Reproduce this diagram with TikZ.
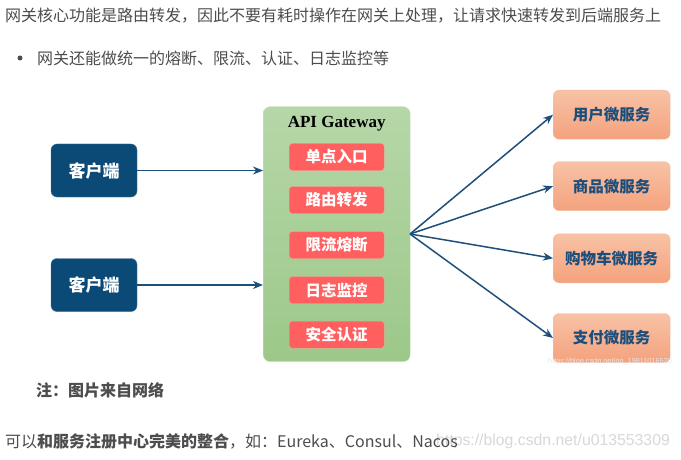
\documentclass[tikz,border=0pt]{standalone}
\usepackage{fontspec}
\setmainfont{Noto Sans CJK SC}
\newfontfamily\gwfont{Liberation Serif}
\newfontfamily\wmfont{Liberation Sans}
\usetikzlibrary{arrows.meta}
\definecolor{txt}{HTML}{4D4D4D}
\definecolor{client}{HTML}{0B4A76}
\definecolor{arr}{HTML}{1E4F7A}
\definecolor{gwtop}{HTML}{B6D7A8}
\definecolor{gwbot}{HTML}{9CC889}
\definecolor{gwline}{HTML}{CFE5C4}
\definecolor{redf}{HTML}{FF5F5F}
\definecolor{redl}{HTML}{FF9C9C}
\definecolor{ortop}{HTML}{F8C2A6}
\definecolor{orbot}{HTML}{F4A27D}
\definecolor{orline}{HTML}{F6BCA2}
\definecolor{ortext}{HTML}{1D4E7B}
\definecolor{wm}{HTML}{D8D8D8}
\begin{document}
\begin{tikzpicture}[x=1pt,y=-1pt,
  para/.style={anchor=west,inner sep=0pt,text=txt,font=\fontsize{16}{16}\selectfont},
  clientbox/.style={draw=client!80!white,fill=client,rounded corners=6pt,minimum width=86pt,minimum height=53pt,text=white,font=\fontsize{17}{17}\selectfont\bfseries},
  gwbox/.style={draw=gwline,top color=gwtop,bottom color=gwbot,rounded corners=7pt,minimum width=147pt,minimum height=255pt},
  redbox/.style={draw=redl,fill=redf,rounded corners=3pt,minimum width=95pt,minimum height=27pt,text=white,font=\fontsize{15.5}{15.5}\selectfont\bfseries},
  svcbox/.style={draw=orline,top color=ortop,bottom color=orbot,rounded corners=6pt,minimum width=117pt,minimum height=49pt,text=ortext,font=\fontsize{15.5}{15.5}\selectfont\bfseries},
  link/.style={draw=arr,line width=1.5pt,-{Stealth[length=10pt,width=8pt]}}
]
\useasboundingbox[fill=white] (0,0) rectangle (681,460);
% texts
\node[para] (t1) at (5,16) {网关核心功能是路由转发，因此不要有耗时操作在网关上处理，让请求快速转发到后端服务上};
\fill[txt] (20,58) circle (2.5pt);
\node[para] (t2) at (37,58) {网关还能做统一的熔断、限流、认证、日志监控等};
\node[para,font=\fontsize{16}{16}\selectfont\bfseries] (note) at (36,390) {注：图片来自网络};
\node[anchor=west,inner sep=0pt,text=wm,font=\wmfont\fontsize{15.8}{15.8}\selectfont] (wm2) at (436,441) {https://blog.csdn.net/u013553309};
\node[para] (t3) at (5,441) {可以\textbf{和服务注册中心完美的整合}，如：Eureka、Consul、Nacos};
% diagram
\node[clientbox] (c1) at (94,170.5) {客户端};
\node[clientbox] (c2) at (94,285) {客户端};
\node[gwbox] (gw) at (336.7,234.2) {};
\node[font=\gwfont\fontsize{17}{17}\selectfont\bfseries,text=black] (gwt) at (336.7,123.5) {API Gateway};
\node[redbox] (r1) at (336.7,157) {单点入口};
\node[redbox] (r2) at (336.7,200) {路由转发};
\node[redbox] (r3) at (336.7,245) {限流熔断};
\node[redbox] (r4) at (336.7,290) {日志监控};
\node[redbox] (r5) at (336.7,334.7) {安全认证};
\node[svcbox] (s1) at (611.7,114.7) {用户微服务};
\node[svcbox] (s2) at (611.7,186.2) {商品微服务};
\node[svcbox] (s3) at (611.7,258.3) {购物车微服务};
\node[svcbox] (s4) at (611.7,338) {支付微服务};
\node[anchor=west,inner sep=0pt,text=wm!60!white,font=\wmfont\fontsize{7.3}{7.3}\selectfont] (wm1) at (548,361.5) {https://blog.csdn.net/qq\_19811016520};
\coordinate (fan) at (410,234);
\draw[link] (c1.east) -- (c1.east -| gw.west);
\draw[link] (c2.east) -- (c2.east -| gw.west);
\foreach \s in {s1,s2,s3,s4}{\draw[link] (fan) -- (\s.west);}
\end{tikzpicture}
\end{document}
